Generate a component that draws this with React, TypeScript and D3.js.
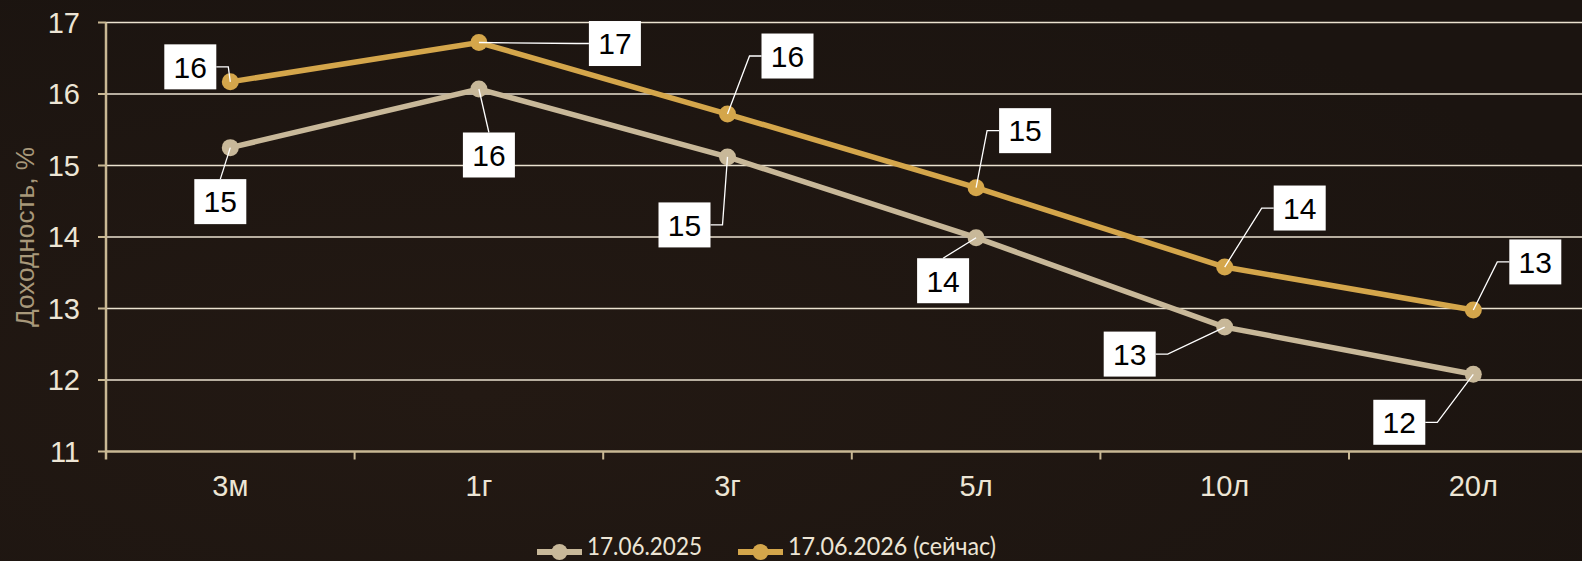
import * as d3 from "d3";

const categories = ["3м", "1г", "3г", "5л", "10л", "20л"];
const yTicks = [11, 12, 13, 14, 15, 16, 17];
const series2025 = [15.25, 16.07, 15.12, 13.99, 12.74, 12.08];
const series2026 = [16.17, 16.72, 15.72, 14.69, 13.58, 12.98];
const seriesNames = ["17.06.2025", "17.06.2026 (сейчас)"];

// label box placement (offset of box centre from the point, edge the leader attaches to)
type LabelPos = { dx: number; dy: number; side: "left" | "right" | "top" };
const labels2025: LabelPos[] = [
  { dx: -10, dy: 54, side: "top" },
  { dx: 10, dy: 66, side: "top" },
  { dx: -43, dy: 68, side: "right" },
  { dx: -33, dy: 43, side: "top" },
  { dx: -95, dy: 27, side: "right" },
  { dx: -74, dy: 48, side: "right" },
];
const labels2026: LabelPos[] = [
  { dx: -40, dy: -15, side: "right" },
  { dx: 136, dy: 1, side: "left" },
  { dx: 60, dy: -58, side: "left" },
  { dx: 49, dy: -57, side: "left" },
  { dx: 75, dy: -59, side: "left" },
  { dx: 62, dy: -48, side: "left" },
];

const W = 1582;
const H = 561;
const plotLeft = 106;
const band = 248.6;
const bg = "#1b1410";
const colGold = "#d4a64b";
const colBeige = "#c8b899";
const boxW = 52;
const boxH = 45;

export default function App() {
  const x = d3
    .scaleBand<string>()
    .domain(categories)
    .range([plotLeft, plotLeft + band * categories.length]);
  const y = d3.scaleLinear().domain([11, 17]).range([451.5, 22.5]);
  const cx = (c: string) => (x(c) || 0) + x.bandwidth() / 2;

  const line = d3
    .line<number>()
    .x((_, i) => cx(categories[i]))
    .y((d) => y(d));

  const series = [
    { values: series2025, color: colBeige, labels: labels2025 },
    { values: series2026, color: colGold, labels: labels2026 },
  ];

  const leader = (px: number, py: number, l: LabelPos) => {
    const bx = px + l.dx;
    const by = py + l.dy;
    if (l.side === "top") return `M${px},${py}L${bx},${by - boxH / 2}`;
    const ex = l.side === "left" ? bx - boxW / 2 : bx + boxW / 2;
    const elbow = l.side === "left" ? ex - 12 : ex + 12;
    return `M${px},${py}L${elbow},${by}L${ex},${by}`;
  };

  const boundaries = categories.map((c) => x(c) || 0).concat([plotLeft + band * categories.length]);
  const legendX = [537, 738];
  const legendLen = [115, 208];

  return (
    <svg
      width={W}
      height={H}
      style={{ position: "fixed", left: 0, top: 0, background: bg }}
      fontFamily="'Liberation Sans', Arial, sans-serif"
    >
      <defs>
        <radialGradient id="glow" cx="0.3" cy="0.7" r="0.8">
          <stop offset="0" stopColor="#231913" />
          <stop offset="1" stopColor={bg} />
        </radialGradient>
      </defs>
      <rect width={W} height={H} fill="url(#glow)" />

      {/* gridlines */}
      {yTicks.slice(1).map((t) => (
        <line key={t} x1={plotLeft} x2={W} y1={y(t)} y2={y(t)} stroke="#ebe2d0" strokeWidth={1.5} />
      ))}

      {/* axes */}
      <line x1={plotLeft} x2={W} y1={y(11)} y2={y(11)} stroke="#c9b894" strokeWidth={2.5} />
      <line x1={plotLeft} x2={plotLeft} y1={y(17)} y2={y(11) + 8} stroke="#c9b894" strokeWidth={2.5} />
      {yTicks.map((t) => (
        <g key={t}>
          <line x1={plotLeft - 8} x2={plotLeft} y1={y(t)} y2={y(t)} stroke="#c9b894" strokeWidth={2} />
          <text x={80} y={y(t)} dy="0.36em" textAnchor="end" fontSize={29} fill="#ede5d5">
            {t}
          </text>
        </g>
      ))}
      {boundaries.slice(1).map((b, i) => (
        <line key={i} x1={b} x2={b} y1={y(11)} y2={y(11) + 8} stroke="#c9b894" strokeWidth={2} />
      ))}
      {categories.map((c) => (
        <text key={c} x={cx(c)} y={486} dy="0.36em" textAnchor="middle" fontSize={29} fill="#ede5d5">
          {c}
        </text>
      ))}
      <text
        transform={`translate(34,237) rotate(-90)`}
        textAnchor="middle"
        fontSize={25}
        fill="#a8987a"
        textLength={180}
        lengthAdjust="spacingAndGlyphs"
      >
        Доходность, %
      </text>

      {/* lines */}
      {series.map((s, si) => (
        <g key={si}>
          <path d={line(s.values) || ""} fill="none" stroke={s.color} strokeWidth={5.5} />
          {s.values.map((v, i) => (
            <circle key={i} cx={cx(categories[i])} cy={y(v)} r={8.5} fill={s.color} />
          ))}
        </g>
      ))}

      {/* data labels */}
      {series.map((s, si) => (
        <g key={si}>
          {s.values.map((v, i) => {
            const px = cx(categories[i]);
            const py = y(v);
            const l = s.labels[i];
            const bx = px + l.dx;
            const by = py + l.dy;
            return (
              <g key={i}>
                <path d={leader(px, py, l)} fill="none" stroke="#ffffff" strokeWidth={1.3} />
                <rect x={bx - boxW / 2} y={by - boxH / 2} width={boxW} height={boxH} fill="#ffffff" />
                <text x={bx} y={by} dy="0.36em" textAnchor="middle" fontSize={30} fill="#000000">
                  {Math.round(v)}
                </text>
              </g>
            );
          })}
        </g>
      ))}

      {/* legend */}
      {series.map((s, si) => {
        const lx = legendX[si];
        const ly = 552;
        return (
          <g key={si}>
            <line x1={lx} x2={lx + 45} y1={ly} y2={ly} stroke={s.color} strokeWidth={6} />
            <circle cx={lx + 22.5} cy={ly} r={8} fill={s.color} />
            <text
              x={lx + 50}
              y={555}
              fontSize={25}
              fontFamily="Lato, 'Open Sans', sans-serif"
              fill="#ede5d5"
              textLength={legendLen[si]}
              lengthAdjust="spacingAndGlyphs"
            >
              {seriesNames[si]}
            </text>
          </g>
        );
      })}
    </svg>
  );
}
